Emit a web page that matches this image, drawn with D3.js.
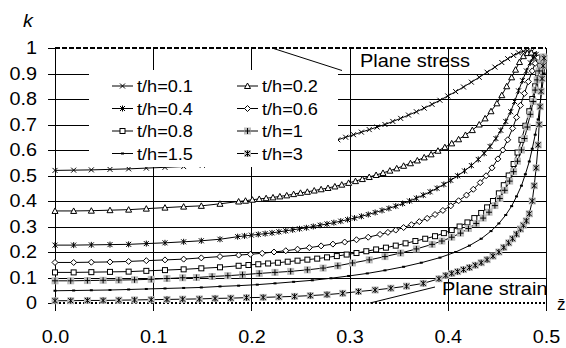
<!DOCTYPE html>
<html>
<head>
<meta charset="utf-8">
<script src="https://d3js.org/d3.v7.min.js"></script>
<style>
  body { margin: 0; background: #fff; }
  svg { font-family: "Liberation Sans", Arial, sans-serif; }
</style>
</head>
<body>
<svg id="chart" width="566" height="348"></svg>
<script>
// ---- data: [z, k] ----
const th01 = [[0,.520],[.019,.521],[.037,.522],[.056,.524],[.075,.526],[.093,.529],[.112,.532],[.131,.535],[.15,.54],[.17,.548],[.19,.557],[.21,.568],[.23,.582],[.25,.598],[.27,.618],
  [.288,.640],[.296,.650],[.304,.660],[.312,.670],[.320,.680],[.328,.690],[.336,.700],[.344,.712],[.352,.724],[.360,.737],[.368,.750],[.376,.764],[.384,.779],[.392,.795],[.400,.812],[.408,.829],[.416,.847],[.424,.866],[.432,.885],[.440,.905],[.448,.925],[.455,.943],[.461,.958],[.467,.971],[.472,.981],[.477,.987],[.481,.989],[.485,.985],[.488,.977],[.491,.966],[.494,.95]];
const th02 = [[0,.361],[.019,.361],[.037,.362],[.056,.364],[.075,.366],[.093,.370],[.112,.374],[.131,.378],[.149,.381],[.168,.389],[.187,.398],
  [.194,.401],[.201,.405],[.208,.408],[.215,.411],[.222,.414],[.229,.418],[.236,.422],[.243,.427],[.250,.432],[.257,.436],[.264,.441],[.271,.446],[.278,.451],[.285,.457],[.292,.464],[.299,.471],[.306,.478],[.313,.486],[.320,.494],[.327,.502],[.334,.510],[.341,.519],[.348,.528],[.355,.538],[.362,.548],[.369,.559],[.376,.571],[.383,.583],[.390,.597],[.397,.611],[.404,.626],[.411,.642],[.418,.659],[.425,.678],[.432,.700],[.438,.724],[.444,.752],[.450,.783],[.455,.815],[.460,.850],[.465,.885],[.469,.915],[.473,.945],[.477,.968],[.481,.980],[.485,.982],[.489,.972]];
const th04 = [[0,.227],[.019,.227],[.037,.228],[.056,.229],[.075,.230],[.093,.233],[.112,.236],[.131,.240],[.149,.244],[.168,.250],[.186,.260],
  [.193,.263],[.200,.266],[.207,.269],[.214,.272],[.221,.275],[.228,.279],[.235,.283],[.242,.287],[.249,.291],[.256,.295],[.263,.300],[.270,.305],[.277,.310],[.284,.315],[.291,.321],[.298,.327],[.305,.333],[.312,.340],[.319,.347],[.326,.355],[.333,.363],[.340,.371],[.347,.380],[.354,.390],[.361,.400],[.368,.411],[.375,.423],[.382,.436],[.389,.450],[.396,.465],[.403,.481],[.410,.499],[.417,.518],[.424,.539],[.431,.563],[.437,.587],[.443,.614],[.449,.645],[.454,.677],[.459,.712],[.464,.750],[.468,.790],[.472,.832],[.476,.872],[.480,.910],[.484,.942],[.487,.962],[.490,.975]];
const th06 = [[0,.159],[.019,.159],[.037,.160],[.056,.161],[.075,.163],[.093,.166],[.112,.169],[.131,.172],[.149,.177],[.168,.182],[.187,.188],[.199,.191],[.211,.195],[.223,.200],[.235,.205],[.247,.211],[.259,.217],[.271,.224],[.283,.231],[.295,.239],[.307,.248],[.319,.258],[.331,.269],
  [.339,.277],[.347,.286],[.355,.296],[.363,.307],[.371,.319],[.379,.332],[.387,.347],[.395,.363],[.403,.381],[.411,.401],[.419,.423],[.426,.446],[.433,.472],[.439,.499],[.445,.530],[.451,.565],[.456,.600],[.461,.640],[.466,.685],[.470,.728],[.474,.775],[.478,.822],[.482,.868],[.486,.910],[.489,.940],[.492,.962]];
const th08 = [[0,.120],[.019,.120],[.037,.121],[.056,.122],[.075,.123],[.093,.126],[.112,.129],[.131,.132],[.149,.136],[.168,.140],[.187,.146],[.197,.149],[.207,.152],[.217,.155],[.227,.158],[.237,.162],[.247,.166],[.257,.170],[.267,.174],[.277,.179],[.287,.184],[.297,.190],[.307,.196],[.317,.203],[.327,.210],[.337,.217],[.347,.225],[.357,.234],[.367,.243],[.377,.252],[.387,.262],[.396,.274],[.404,.286],[.412,.300],[.420,.316],[.427,.333],[.434,.353],[.440,.375],[.446,.400],[.452,.430],[.457,.462],[.462,.500],[.467,.545],[.471,.590],[.475,.640],[.479,.695],[.483,.752],[.486,.800],[.489,.850],[.492,.900],[.494,.935],[.496,.960]];
const th1 = [[0,.087],[.016,.087],[.033,.088],[.049,.089],[.065,.090],[.081,.091],[.098,.093],[.114,.096],[.130,.099],[.144,.100],[.160,.104],[.176,.107],[.191,.111],[.208,.116],[.224,.120],[.240,.124],[.257,.130],[.273,.137],[.288,.146],[.303,.157],[.320,.169],[.336,.182],[.352,.196],[.368,.212],[.384,.230],
  [.394,.243],[.404,.258],[.413,.274],[.421,.292],[.429,.312],[.436,.333],[.442,.356],[.448,.382],[.453,.410],[.458,.442],[.463,.478],[.467,.515],[.471,.556],[.475,.600],[.478,.645],[.481,.690],[.484,.740],[.487,.790],[.489,.835],[.491,.875],[.493,.910],[.495,.940],[.497,.965]];
const th15 = [[0,.048],[.019,.049],[.037,.050],[.056,.051],[.075,.053],[.093,.055],[.112,.057],[.131,.059],[.149,.061],[.168,.065],[.187,.068],[.206,.072],[.224,.077],[.243,.083],[.262,.089],[.281,.097],[.299,.106],[.318,.116],[.336,.128],[.355,.142],[.373,.158],[.392,.178],[.408,.200],[.422,.225],[.434,.252],[.444,.282],[.452,.312],[.459,.345],[.465,.380],[.470,.418],[.475,.460],[.479,.505],[.483,.555],[.486,.605],[.489,.660],[.492,.720],[.494,.780],[.496,.840],[.498,.900],[.499,.950]];
const th3 = [[0,.009],[.016,.009],[.033,.010],[.049,.010],[.065,.011],[.081,.012],[.098,.013],[.114,.014],[.130,.015],[.147,.016],[.163,.018],[.179,.019],[.195,.021],[.212,.022],[.228,.024],[.244,.026],[.260,.029],[.277,.033],[.293,.038],[.309,.045],[.326,.051],[.342,.058],[.358,.066],[.375,.077],[.391,.095],
  [.398,.108],[.404,.116],[.410,.123],[.416,.131],[.422,.139],[.428,.148],[.434,.158],[.440,.170],[.446,.184],[.452,.200],[.457,.218],[.462,.236],[.466,.252],[.470,.270],[.474,.290],[.477,.305],[.480,.322],[.483,.350],[.486,.400],[.488,.460],[.490,.530],[.492,.620],[.493,.700],[.494,.770],[.495,.830],[.496,.880],[.497,.930],[.498,.960]];

const seriesNames = ["t/h=0.1","t/h=0.2","t/h=0.4","t/h=0.6","t/h=0.8","t/h=1","t/h=1.5","t/h=3"];
const seriesData = [th01, th02, th04, th06, th08, th1, th15, th3];
const markerTypes = ["x","tri","star","diamond","square","plusGray","dot","starGray"];
const zTicks = [0, 0.1, 0.2, 0.3, 0.4, 0.5];
const zTickLabels = ["0.0","0.1","0.2","0.3","0.4","0.5"];
const kTicks = [0, 0.1, 0.2, 0.3, 0.4, 0.5, 0.6, 0.7, 0.8, 0.9, 1];
const kTickLabels = ["0","0.1","0.2","0.3","0.4","0.5","0.6","0.7","0.8","0.9","1"];

var svg = d3.select("#chart");
var x = d3.scaleLinear().domain([0, 0.5]).range([55, 546]);
var y = d3.scaleLinear().domain([0, 1]).range([303, 48]);
var stretch = "scale(1.1,1)";

// horizontal grid + left ticks
svg.append("g").attr("transform", "translate(48,0)")
  .call(d3.axisRight(y).tickValues(kTicks.slice(1, 10)).tickSize(498).tickFormat(""))
  .call(g => g.select(".domain").remove());
svg.append("g").attr("transform", "translate(48,0)")
  .call(d3.axisRight(y).tickValues([0, 1]).tickSize(7).tickFormat(""))
  .call(g => g.select(".domain").remove());
// vertical grid, left axis, bottom ticks
svg.append("g").attr("transform", "translate(0,48)")
  .call(d3.axisBottom(x).tickValues(zTicks).tickSize(263).tickFormat(""))
  .call(g => g.select(".domain").remove());
svg.selectAll(".tick line").attr("stroke", "#000").attr("shape-rendering", "crispEdges");

// tick labels
svg.append("g").attr("transform", "translate(37,0)")
  .call(d3.axisLeft(y).tickValues(kTicks).tickSize(0).tickPadding(0).tickFormat((d, i) => kTickLabels[i]))
  .call(g => g.select(".domain").remove())
  .selectAll("text").attr("font-size", 18).attr("fill", "#000").attr("font-family", "Liberation Sans, Arial").attr("transform", stretch);
svg.append("g").attr("transform", "translate(0,330)")
  .call(d3.axisBottom(x).tickValues(zTicks).tickSize(0).tickPadding(0).tickFormat((d, i) => zTickLabels[i]))
  .call(g => g.select(".domain").remove())
  .selectAll("text").attr("font-size", 18).attr("fill", "#000").attr("font-family", "Liberation Sans, Arial").attr("transform", stretch);

// plane stress (k=1) and plane strain (k=0)
svg.append("line").attr("x1", x(0)).attr("x2", x(0.5)).attr("y1", y(1)).attr("y2", y(1))
  .attr("stroke", "#000").attr("stroke-width", 2).attr("stroke-dasharray", "5,2").attr("shape-rendering", "crispEdges");
svg.append("line").attr("x1", x(0)).attr("x2", x(0.5)).attr("y1", y(0)).attr("y2", y(0))
  .attr("stroke", "#000").attr("stroke-width", 2).attr("stroke-dasharray", "2,2").attr("shape-rendering", "crispEdges");

function drawMarker(g, type) {
  if (type == "plusGray" || type == "starGray")
    g.append("rect").attr("x", -3.5).attr("y", -3.5).attr("width", 7).attr("height", 7).attr("fill", "#bdbdbd");
  if (type == "x") g.append("path").attr("d", "M-2.5,-2.5L2.5,2.5M-2.5,2.5L2.5,-2.5").attr("stroke", "#000");
  if (type == "star" || type == "starGray") g.append("path").attr("d", "M-2.5,-2.5L2.5,2.5M-2.5,2.5L2.5,-2.5M0,-3L0,3").attr("stroke", "#000");
  if (type == "plusGray") g.append("path").attr("d", "M-3,0L3,0M0,-3L0,3").attr("stroke", "#000");
  if (type == "tri") g.append("path").attr("d", "M0,-3L3,2.5L-3,2.5Z").attr("fill", "#fff").attr("stroke", "#000");
  if (type == "diamond") g.append("path").attr("d", "M0,-3L3,0L0,3L-3,0Z").attr("fill", "#fff").attr("stroke", "#000");
  if (type == "square") g.append("rect").attr("x", -2.5).attr("y", -2.5).attr("width", 5).attr("height", 5).attr("fill", "#fff").attr("stroke", "#000");
  if (type == "dot") g.append("rect").attr("x", -1.5).attr("y", -1).attr("width", 3).attr("height", 2).attr("fill", "#000");
}

var line = d3.line().x(d => x(d[0])).y(d => y(d[1]));
seriesData.forEach(function(data, i) {
  svg.append("path").datum(data).attr("d", line).attr("fill", "none").attr("stroke", "#000").attr("stroke-width", 1);
  svg.append("g").selectAll("g").data(data).enter().append("g")
    .attr("transform", d => "translate(" + x(d[0]) + "," + y(d[1]) + ")")
    .each(function() { drawMarker(d3.select(this), markerTypes[i]); });
});

// legend
var leg = svg.append("g");
leg.append("rect").attr("x", 89).attr("y", 70).attr("width", 249).attr("height", 97).attr("fill", "#fff");
seriesNames.forEach(function(name, i) {
  var lx = i % 2 == 0 ? 112 : 237;
  var ly = 86 + Math.floor(i / 2) * 22.5;
  leg.append("line").attr("x1", lx).attr("x2", lx + 21).attr("y1", ly).attr("y2", ly).attr("stroke", "#000");
  drawMarker(leg.append("g").attr("transform", "translate(" + (lx + 10.5) + "," + ly + ")"), markerTypes[i]);
  leg.append("text").attr("transform", "translate(" + (lx + 25) + "," + (ly + 6) + ") " + stretch)
    .attr("font-size", 16.5).text(name);
});

// annotations
svg.append("line").attr("x1", 272).attr("y1", 48).attr("x2", 342).attr("y2", 70.5).attr("stroke", "#000");
svg.append("text").attr("transform", "translate(360,67) scale(1.08,1)").attr("font-size", 18.5).text("Plane stress");
svg.append("line").attr("x1", 370).attr("y1", 303).attr("x2", 435).attr("y2", 287).attr("stroke", "#000");
svg.append("text").attr("transform", "translate(442,295) scale(1.08,1)").attr("font-size", 18.5).text("Plane strain");

// axis titles
svg.append("text").attr("transform", "translate(23,27) " + stretch).attr("font-size", 18).attr("font-style", "italic").text("k");
svg.append("text").attr("transform", "translate(557,310)").attr("font-size", 17).text("z\u0304");
</script>
</body>
</html>
